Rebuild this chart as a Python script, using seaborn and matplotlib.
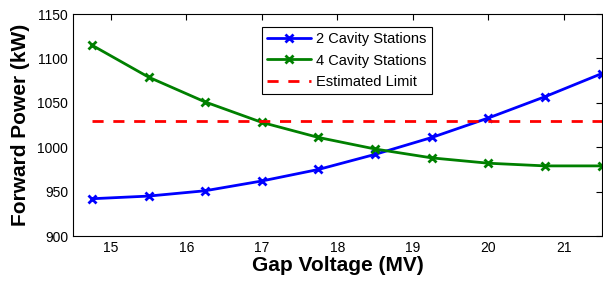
import seaborn as sns
import matplotlib.pyplot as plt

gap_voltage = [14.75, 15.5, 16.25, 17.0, 17.75, 18.5, 19.25, 20.0, 20.75, 21.5]
two_cavity = [942, 945, 951, 962, 975, 992, 1011, 1033, 1057, 1083]
four_cavity = [1115, 1079, 1051, 1028, 1011, 998, 988, 982, 979, 979]
limit = 1030

sns.set_style('white', {'text.color': 'black', 'axes.labelcolor': 'black',
                        'xtick.color': 'black', 'ytick.color': 'black'})
plt.rcParams['font.family'] = ['Liberation Sans', 'DejaVu Sans']

fig = plt.figure(figsize=(6.03, 2.81), dpi=100)
ax = fig.add_axes([0.121, 0.160, 0.877, 0.790])

blue, green, red = '#0000ff', '#008000', '#ff0000'
sns.lineplot(x=gap_voltage, y=two_cavity, color=blue, label='2 Cavity Stations',
             marker='x', markersize=6, markeredgewidth=2, markeredgecolor=blue,
             linewidth=2, ax=ax)
sns.lineplot(x=gap_voltage, y=four_cavity, color=green, label='4 Cavity Stations',
             marker='x', markersize=6, markeredgewidth=2, markeredgecolor=green,
             linewidth=2, ax=ax)
sns.lineplot(x=[gap_voltage[0], gap_voltage[-1]], y=[limit, limit], color=red,
             label='Estimated Limit', linestyle=(0, (4, 3.5)), linewidth=2, ax=ax)

ax.set_xlim(14.5, 21.5)
ax.set_ylim(900, 1150)
ax.set_xticks([15, 16, 17, 18, 19, 20, 21])
ax.set_yticks([900, 950, 1000, 1050, 1100, 1150])
ax.tick_params(direction='in', top=True, right=True, length=4, width=0.8, labelsize=10, color='black')
for s in ax.spines.values():
    s.set_color('black')
    s.set_linewidth(0.8)

ax.set_xlabel('Gap Voltage (MV)', fontsize=15, fontweight='bold', labelpad=1)
ax.set_ylabel('Forward Power (kW)', fontsize=15, fontweight='bold', labelpad=5)

leg = ax.legend(loc='upper left', bbox_to_anchor=(0.357, 0.941), borderaxespad=0,
                fontsize=10.5, frameon=True, fancybox=False, edgecolor='black',
                framealpha=1, handlelength=3.0, borderpad=0.35, labelspacing=0.5,
                handletextpad=0.4)
leg.get_frame().set_linewidth(0.8)

fig.savefig('out.png', dpi=100)
